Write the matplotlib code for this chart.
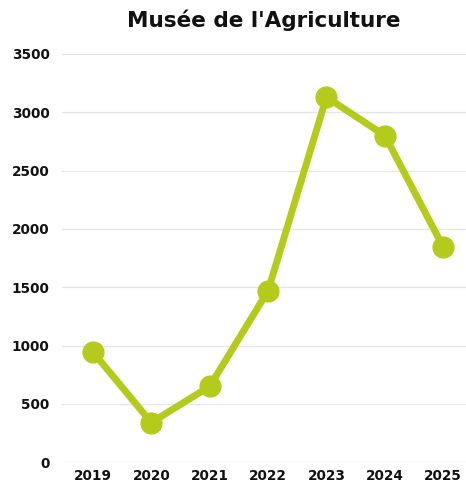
import matplotlib
matplotlib.use("Agg")
import matplotlib.pyplot as plt

years = ["2019", "2020", "2021", "2022", "2023", "2024", "2025"]
visitors = [945, 340, 650, 1470, 3130, 2800, 1845]
y_ticks = [0, 500, 1000, 1500, 2000, 2500, 3000, 3500]

green = "#b5cb1c"

fig = plt.figure(figsize=(4.66, 4.86), dpi=100)
ax = fig.add_axes([0.133, 0.049, 0.867, 0.84])

x = list(range(len(years)))
ax.plot(x, visitors, color=green, lw=5, marker="o", markersize=15,
        solid_capstyle="round", zorder=3)

ax.set_ylim(0, 3500)
ax.set_xlim(-0.53, 6.39)
ax.set_yticks(y_ticks)
ax.set_yticklabels([str(v) for v in y_ticks])
ax.set_xticks(x)
ax.set_xticklabels(years)
ax.grid(axis="y", color="#e6e6e6", lw=1)
ax.set_axisbelow(True)
for s in ax.spines.values():
    s.set_visible(False)
ax.tick_params(length=0, labelsize=9.8, pad=5)
for lab in ax.get_xticklabels() + ax.get_yticklabels():
    lab.set_fontweight("bold")
    lab.set_color("#111111")
ax.tick_params(axis="y", pad=9)

fig.text(0.567, 0.958, "Musée de l'Agriculture", ha="center", va="center",
         fontsize=15.5, fontweight="bold", color="#111111")

fig.savefig("out.png", dpi=100)
